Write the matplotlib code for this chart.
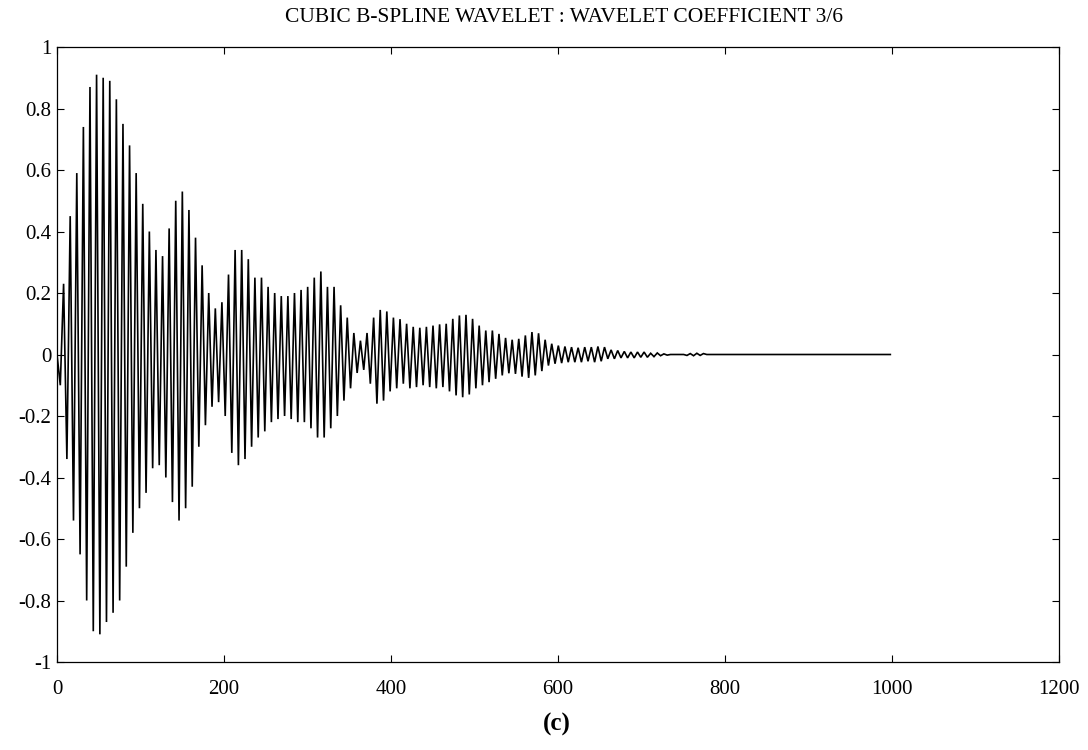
import numpy as np
import matplotlib
matplotlib.use("Agg")
import matplotlib.pyplot as plt

# ---- data ----
# successive local maxima (peaks) of the coefficient signal, one per cycle
peaks = [0.23, 0.45, 0.59, 0.74, 0.87, 0.91, 0.90, 0.89, 0.83, 0.75,
         0.68, 0.59, 0.49, 0.40, 0.34, 0.32, 0.41, 0.50, 0.53, 0.47,
         0.38, 0.29, 0.20, 0.15, 0.17,
         0.26, 0.34, 0.34, 0.31, 0.25, 0.25, 0.22, 0.20, 0.19, 0.19,
         0.20, 0.21, 0.22, 0.25, 0.27, 0.22, 0.22, 0.16, 0.12, 0.07,
         0.045, 0.07, 0.12, 0.145, 0.14, 0.12, 0.115, 0.10,
         0.09, 0.087, 0.09, 0.094, 0.098, 0.10, 0.116, 0.127, 0.129, 0.116,
         0.094, 0.078, 0.078, 0.067, 0.054, 0.048, 0.051, 0.062, 0.073, 0.069,
         0.048, 0.035, 0.029, 0.026, 0.024, 0.022, 0.024, 0.024, 0.026, 0.024,
         0.015, 0.013, 0.010, 0.008, 0.008, 0.008, 0.004, 0.005, 0.002,
         0.0, 0.0, 0.0, 0.003, 0.004, 0.003, 0.0]
# successive local minima (troughs), one per cycle
troughs = [-0.10, -0.34, -0.54, -0.65, -0.80, -0.90, -0.91, -0.87, -0.84, -0.80,
           -0.69, -0.58, -0.50, -0.45, -0.37, -0.36, -0.40, -0.48, -0.54, -0.50,
           -0.43, -0.30, -0.23, -0.17, -0.155,
           -0.20, -0.32, -0.36, -0.34, -0.30, -0.27, -0.25, -0.22, -0.21, -0.20,
           -0.21, -0.22, -0.22, -0.24, -0.27, -0.27, -0.24, -0.20, -0.15, -0.11,
           -0.06, -0.05, -0.095, -0.16, -0.15, -0.12, -0.11, -0.095,
           -0.11, -0.106, -0.10, -0.106, -0.11, -0.106, -0.12, -0.133, -0.139, -0.13,
           -0.11, -0.10, -0.09, -0.079, -0.068, -0.061, -0.063, -0.072, -0.076, -0.068,
           -0.054, -0.036, -0.030, -0.028, -0.025, -0.025, -0.025, -0.022, -0.025, -0.022,
           -0.014, -0.014, -0.011, -0.011, -0.011, -0.009, -0.009, -0.007, -0.004,
           -0.002, 0.0, 0.0, -0.003, -0.004, -0.003, 0.0]
n_samples = 1000          # signal length
half_cycle = 3.95         # samples between a trough and the next peak

title = "CUBIC B-SPLINE WAVELET : WAVELET COEFFICIENT 3/6"
xticks = [0, 200, 400, 600, 800, 1000, 1200]
yticks = [-1, -0.8, -0.6, -0.4, -0.2, 0, 0.2, 0.4, 0.6, 0.8, 1]
ytick_labels = ["-1", "-0.8", "-0.6", "-0.4", "-0.2", "0", "0.2", "0.4", "0.6", "0.8", "1"]

# ---- build the signal from the alternating extrema ----
vals = [0.0]
for t, p in zip(troughs, peaks):
    vals += [t, p]
xs = list(np.arange(len(vals)) * half_cycle)
xs.append(n_samples - 2)
vals.append(0.0)

plt.rcParams['font.family'] = ['Liberation Serif', 'DejaVu Serif']

fig = plt.figure(figsize=(10.88, 7.5), dpi=100)
ax = fig.add_axes([57 / 1088, 1 - 662 / 750, (1059 - 57) / 1088, (662 - 47) / 750])
ax.plot(xs, vals, color='black', linewidth=1.2, solid_joinstyle='miter')

ax.set_xlim(0, 1200)
ax.set_ylim(-1, 1)
ax.set_xticks(xticks)
ax.set_xticklabels([str(v) for v in xticks])
ax.set_yticks(yticks)
ax.set_yticklabels(ytick_labels)
ax.tick_params(direction='in', length=5, width=0.8, top=True, right=True,
               labelsize=15, colors='black')
ax.tick_params(axis='x', pad=13)
ax.tick_params(axis='y', pad=4)
for s in ax.spines.values():
    s.set_linewidth(0.9)
    s.set_color('black')

fig.text(564 / 1088, 1 - 17 / 750, title, ha='center', va='center', fontsize=15.5)
fig.text(557 / 1088, 1 - 724 / 750, "(c)", ha='center', va='center', fontsize=18,
         fontweight='bold')

fig.savefig("out.png", dpi=100, facecolor='white')
